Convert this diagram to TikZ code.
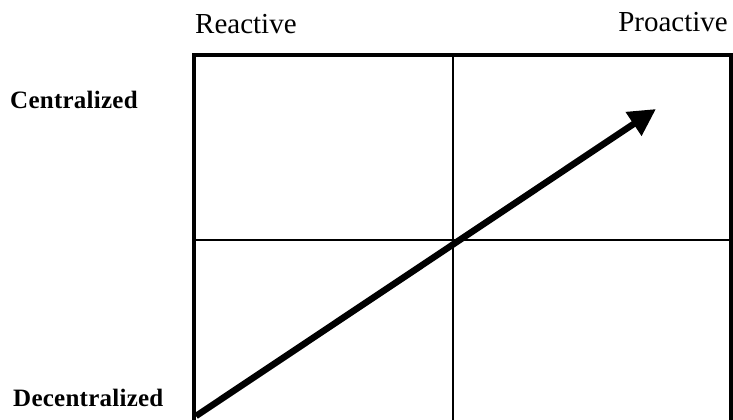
\documentclass[tikz,border=0pt]{standalone}
\usepackage{fontspec}
\setmainfont{Liberation Serif}
\usetikzlibrary{arrows.meta}
\begin{document}
\begin{tikzpicture}[x=1pt,y=-1pt,
  outer/.style={line width=4pt},
  inner/.style={line width=2.2pt},
  bigarrow/.style={line width=6.5pt,-{Triangle[length=27pt,width=27pt]}},
  colhead/.style={font=\fontsize{29}{31}\selectfont,inner sep=0pt},
  rowhead/.style={font=\addfontfeature{LetterSpace=1}\fontsize{25}{27}\selectfont\bfseries,inner sep=0pt}]
\useasboundingbox (0,0) rectangle (733,420);
\coordinate (tl) at (194,55);
\coordinate (tr) at (731,55);
\coordinate (bl) at (194,424);
\coordinate (br) at (731,424);
\coordinate (tm) at (453,55);
\coordinate (bm) at (453,424);
\coordinate (lm) at (194,240);
\coordinate (rm) at (731,240);
\coordinate (start) at (196,416);
\coordinate (tip) at (656,109);
\draw[outer] (tl) rectangle (br);
\draw[inner] (tm) -- (bm);
\draw[inner] (lm) -- (rm);
\draw[bigarrow] (start) -- (tip);
\node[colhead,anchor=base west] (reactive) at (195,34) {Reactive};
\node[colhead,anchor=base east] (proactive) at (728,32) {Proactive};
\node[rowhead,anchor=base west] (central) at (10,108) {Centralized};
\node[rowhead,anchor=base west] (decentral) at (13,406) {Decentralized};
\end{tikzpicture}
\end{document}
